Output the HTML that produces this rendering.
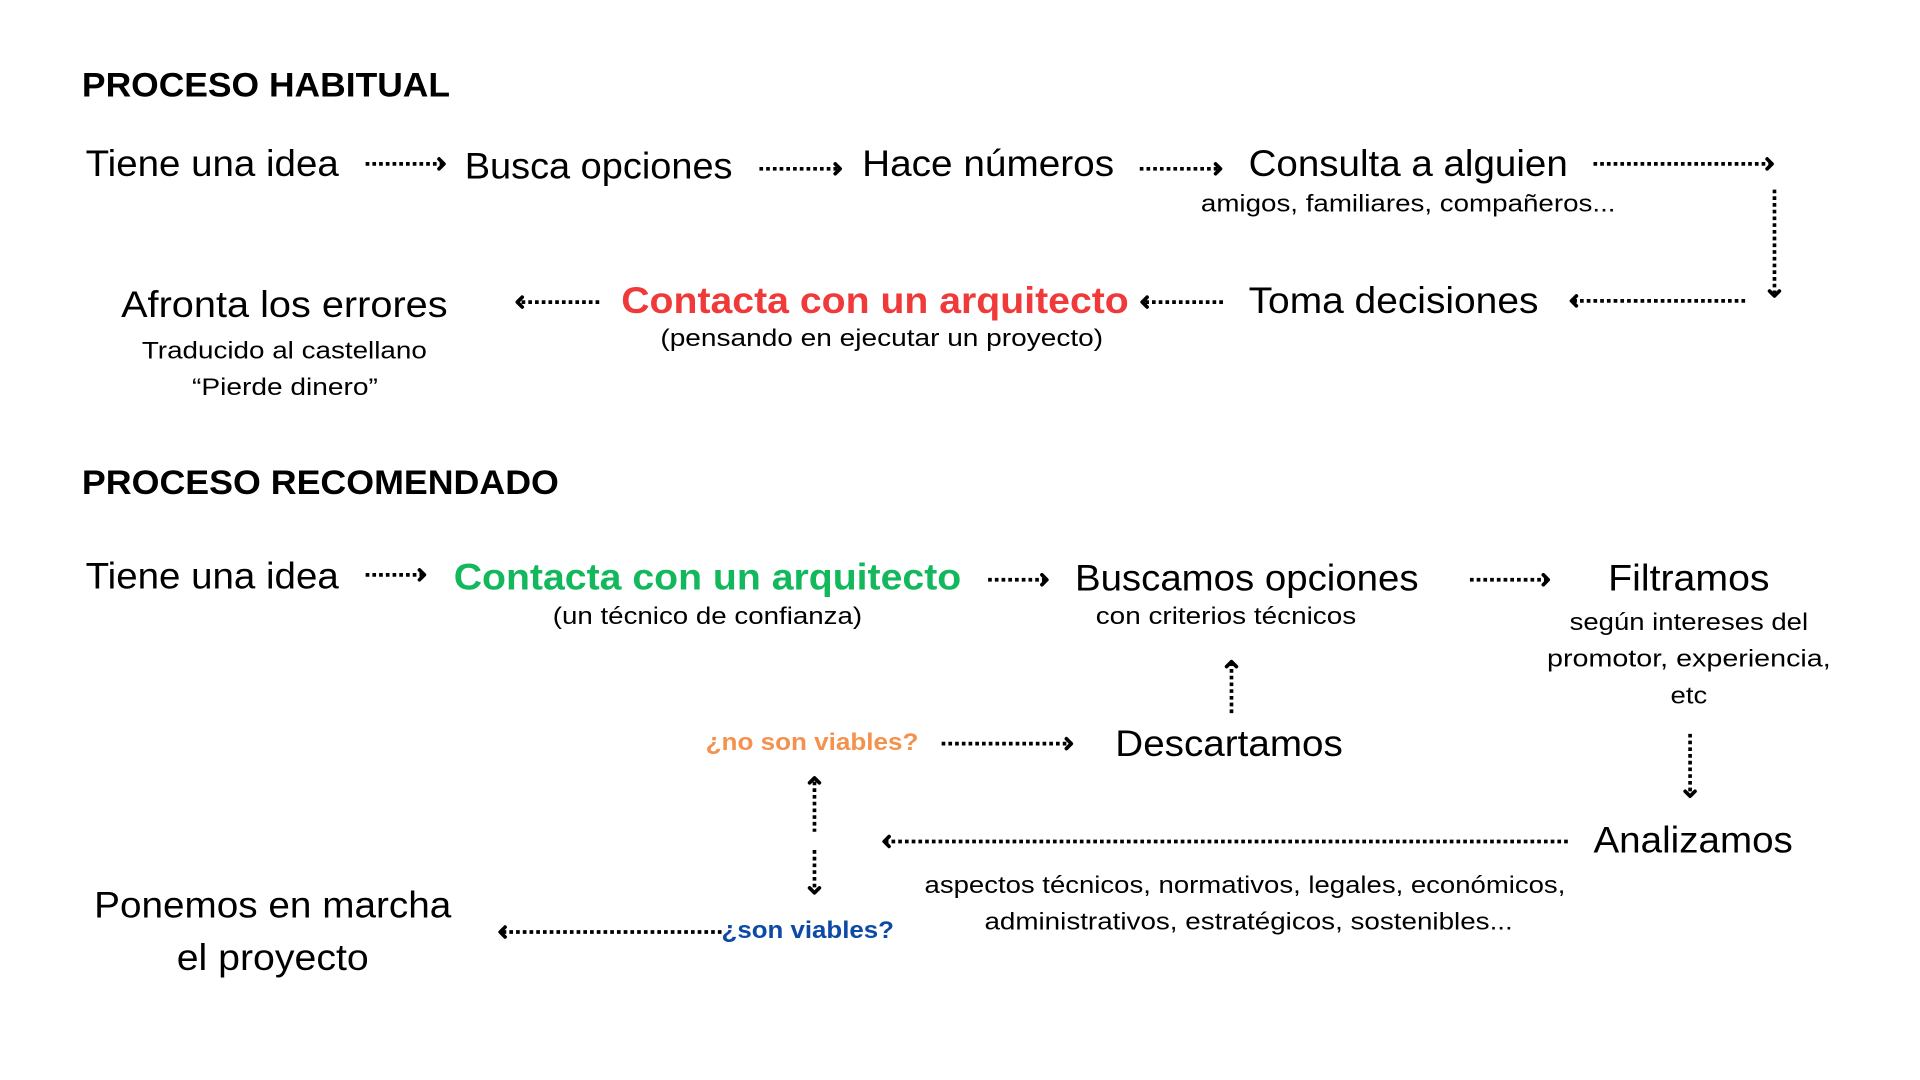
<!DOCTYPE html>
<html><head><meta charset="utf-8"><style>
html,body{margin:0;padding:0;background:#fff;width:1920px;height:1080px;overflow:hidden}
svg{display:block}
text{font-family:"Liberation Sans",sans-serif;fill:#000}
.m{font-size:30px}
.s{font-size:20px}
.h{font-size:28px;font-weight:bold}
.b{font-weight:bold}
.d{stroke:#000;stroke-width:3;stroke-dasharray:3 2.5;fill:none}
.a{stroke:#000;stroke-width:3;fill:none;stroke-linecap:round;stroke-linejoin:round}
</style></head><body>
<svg width="1920" height="1080" viewBox="0 0 1570 883" preserveAspectRatio="none">
<text class="h" x="67" y="79" textLength="301" lengthAdjust="spacingAndGlyphs">PROCESO HABITUAL</text>
<text class="m" x="70" y="144" textLength="207" lengthAdjust="spacingAndGlyphs">Tiene una idea</text>
<text class="m" x="380" y="146" textLength="219" lengthAdjust="spacingAndGlyphs">Busca opciones</text>
<text class="m" x="705" y="144" textLength="206" lengthAdjust="spacingAndGlyphs">Hace números</text>
<text class="m" x="1021" y="144" textLength="261" lengthAdjust="spacingAndGlyphs">Consulta a alguien</text>
<text class="s" x="982" y="173" textLength="339" lengthAdjust="spacingAndGlyphs">amigos, familiares, compañeros...</text>

<text class="m" x="99" y="259" textLength="267" lengthAdjust="spacingAndGlyphs">Afronta los errores</text>
<text class="s" x="116" y="293" textLength="233" lengthAdjust="spacingAndGlyphs">Traducido al castellano</text>
<text class="s" x="157" y="323" textLength="152" lengthAdjust="spacingAndGlyphs">“Pierde dinero”</text>
<text class="m b" x="508" y="256" textLength="415" lengthAdjust="spacingAndGlyphs" style="fill:#f03a3a">Contacta con un arquitecto</text>
<text class="s" x="540" y="283" textLength="362" lengthAdjust="spacingAndGlyphs">(pensando en ejecutar un proyecto)</text>
<text class="m" x="1021" y="256" textLength="237" lengthAdjust="spacingAndGlyphs">Toma decisiones</text>

<text class="h" x="67" y="404" textLength="390" lengthAdjust="spacingAndGlyphs">PROCESO RECOMENDADO</text>
<text class="m" x="70" y="481" textLength="207" lengthAdjust="spacingAndGlyphs">Tiene una idea</text>
<text class="m b" x="371" y="482" textLength="415" lengthAdjust="spacingAndGlyphs" style="fill:#13b85c">Contacta con un arquitecto</text>
<text class="s" x="452" y="510" textLength="253" lengthAdjust="spacingAndGlyphs">(un técnico de confianza)</text>
<text class="m" x="879" y="483" textLength="281" lengthAdjust="spacingAndGlyphs">Buscamos opciones</text>
<text class="s" x="896" y="510" textLength="213" lengthAdjust="spacingAndGlyphs">con criterios técnicos</text>
<text class="m" x="1315" y="483" textLength="132" lengthAdjust="spacingAndGlyphs">Filtramos</text>
<text class="s" x="1381" y="515" text-anchor="middle" textLength="195" lengthAdjust="spacingAndGlyphs">según intereses del</text>
<text class="s" x="1381" y="545" text-anchor="middle" textLength="232" lengthAdjust="spacingAndGlyphs">promotor, experiencia,</text>
<text class="s" x="1381" y="575" text-anchor="middle" textLength="30" lengthAdjust="spacingAndGlyphs">etc</text>

<text class="s b" x="577" y="613" textLength="174" lengthAdjust="spacingAndGlyphs" style="fill:#f4924d">¿no son viables?</text>
<text class="m" x="912" y="618" textLength="186" lengthAdjust="spacingAndGlyphs">Descartamos</text>
<text class="m" x="1303" y="697" textLength="163" lengthAdjust="spacingAndGlyphs">Analizamos</text>
<text class="s" x="756" y="730" textLength="524" lengthAdjust="spacingAndGlyphs">aspectos técnicos, normativos, legales, económicos,</text>
<text class="s" x="805" y="760" textLength="432" lengthAdjust="spacingAndGlyphs">administrativos, estratégicos, sostenibles...</text>
<text class="m" x="223" y="750" text-anchor="middle" textLength="292" lengthAdjust="spacingAndGlyphs">Ponemos en marcha</text>
<text class="m" x="223" y="793" text-anchor="middle" textLength="157" lengthAdjust="spacingAndGlyphs">el proyecto</text>
<text class="s b" x="590" y="767" textLength="141" lengthAdjust="spacingAndGlyphs" style="fill:#0d4aa6">¿son viables?</text>

<!-- arrows row1 -->
<line class="d" x1="299" y1="134" x2="362" y2="134"/><polyline class="a" points="359,130 363,134 359,138"/>
<line class="d" x1="621" y1="138" x2="686" y2="138"/><polyline class="a" points="683,134 687,138 683,142"/>
<line class="d" x1="932" y1="138" x2="997" y2="138"/><polyline class="a" points="994,134 998,138 994,142"/>
<line class="d" x1="1303" y1="134" x2="1448" y2="134"/><polyline class="a" points="1445,130 1449,134 1445,138"/>
<line class="d" x1="1451" y1="155" x2="1451" y2="241"/><polyline class="a" points="1447,238 1451,242 1455,238"/>
<line class="d" x1="1427" y1="246" x2="1286" y2="246"/><polyline class="a" points="1289,242 1285,246 1289,250"/>
<line class="d" x1="1000" y1="247" x2="935" y2="247"/><polyline class="a" points="938,243 934,247 938,251"/>
<line class="d" x1="490" y1="247" x2="424" y2="247"/><polyline class="a" points="427,243 423,247 427,251"/>
<!-- arrows row3 -->
<line class="d" x1="299" y1="470" x2="346" y2="470"/><polyline class="a" points="343,466 347,470 343,474"/>
<line class="d" x1="808" y1="474" x2="855" y2="474"/><polyline class="a" points="852,470 856,474 852,478"/>
<line class="d" x1="1202" y1="474" x2="1265" y2="474"/><polyline class="a" points="1262,470 1266,474 1262,478"/>
<line class="d" x1="1007" y1="583" x2="1007" y2="542"/><polyline class="a" points="1003,545 1007,541 1011,545"/>
<line class="d" x1="770" y1="608" x2="875" y2="608"/><polyline class="a" points="872,604 876,608 872,612"/>
<line class="d" x1="1382" y1="600" x2="1382" y2="650"/><polyline class="a" points="1378,647 1382,651 1386,647"/>
<line class="d" x1="1282" y1="688" x2="724" y2="688"/><polyline class="a" points="727,684 723,688 727,692"/>
<line class="d" x1="666" y1="639" x2="666" y2="680"/><polyline class="a" points="662,640 666,636 670,640"/>
<line class="d" x1="666" y1="695" x2="666" y2="728"/><polyline class="a" points="662,726 666,730 670,726"/>
<line class="d" x1="590" y1="762" x2="410" y2="762"/><polyline class="a" points="413,758 409,762 413,766"/>
</svg>
</body></html>
